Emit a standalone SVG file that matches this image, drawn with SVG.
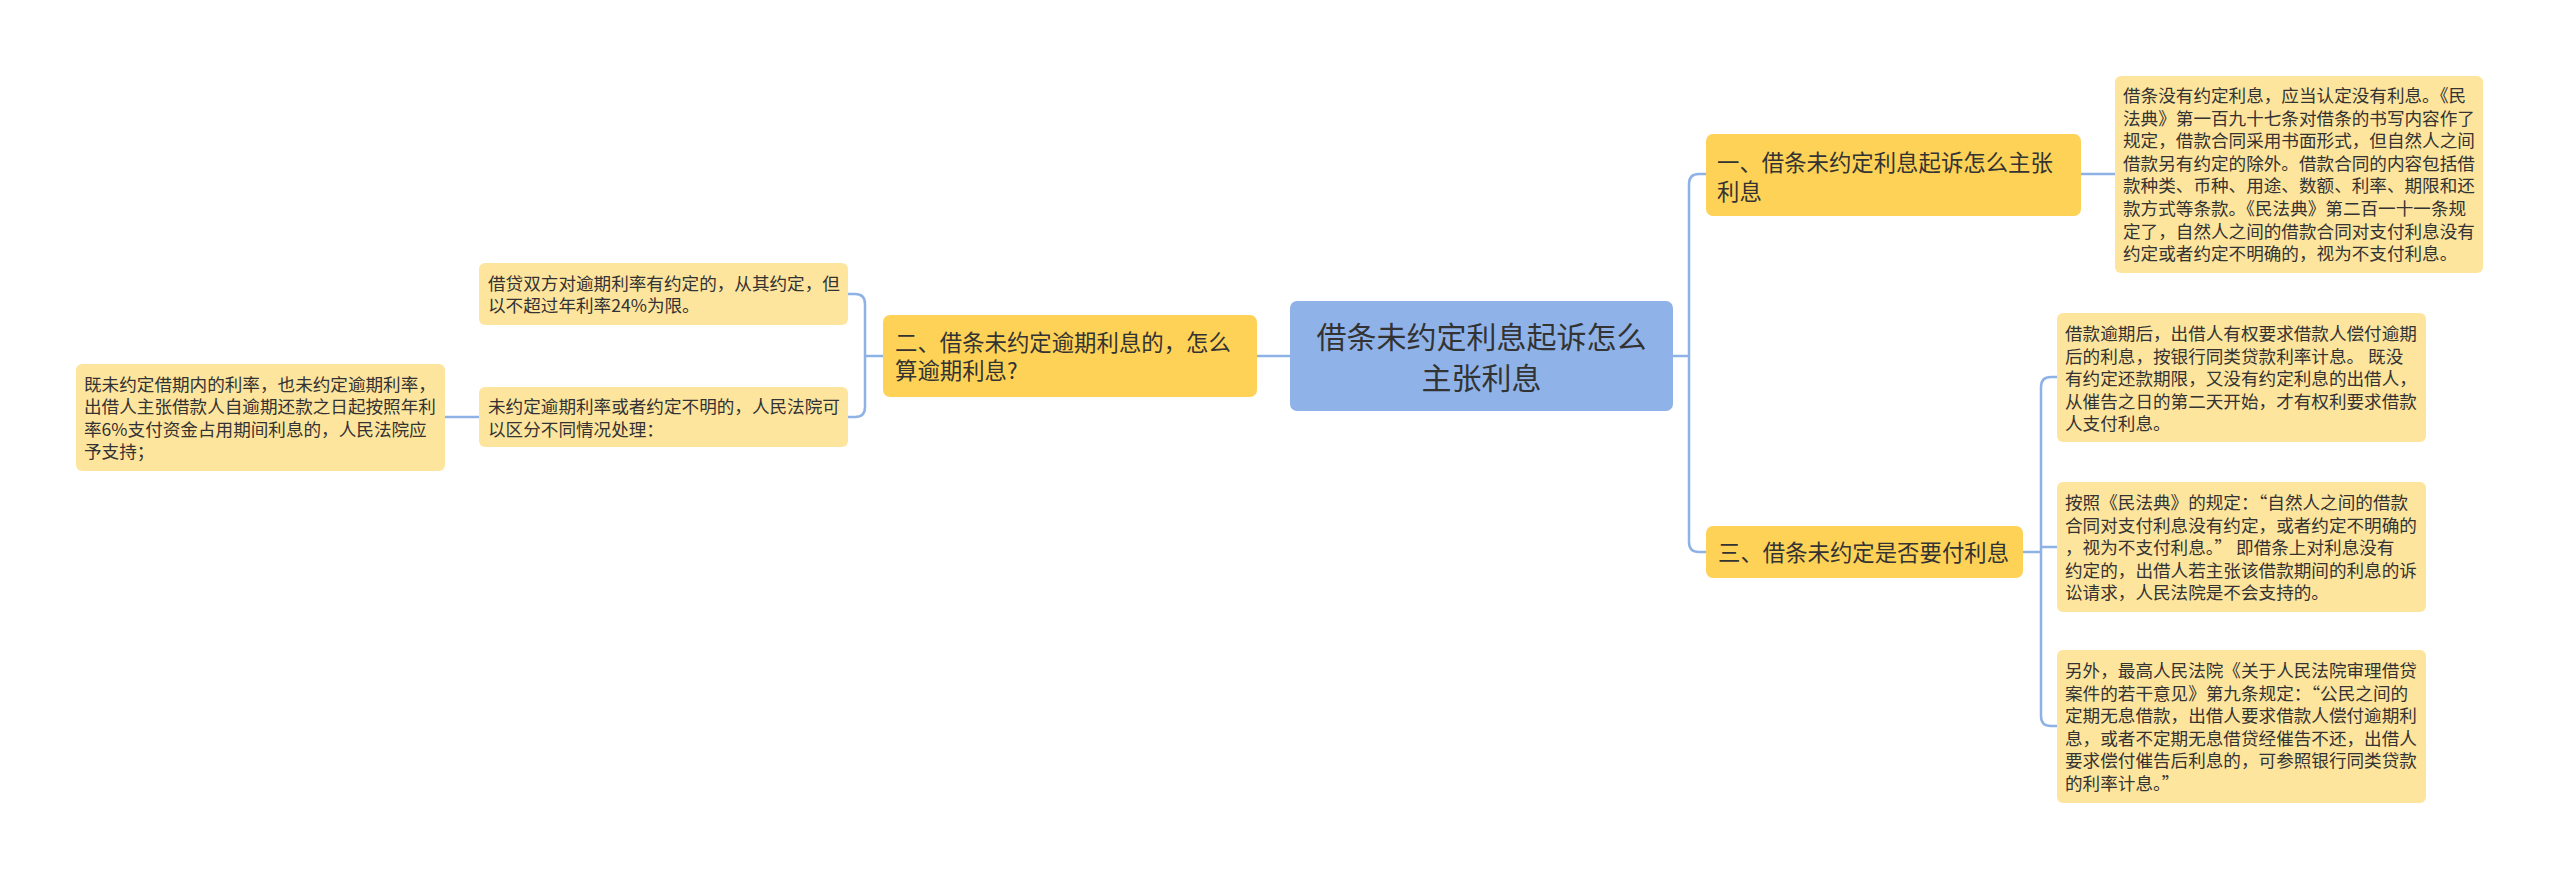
<svg xmlns="http://www.w3.org/2000/svg" width="2560" height="879" viewBox="0 0 2560 879">
<style>
text{font-family:"Noto Sans CJK SC","Noto Sans",sans-serif;fill:#333}
.root rect{fill:#8fb3e9}
.root text{font-size:30px;text-anchor:middle}
.l1 rect{fill:#fdd256}
.l1 text{font-size:22.4px}
.leaf rect{fill:#fee59e}
.leaf text{font-size:17.6px}
.conn path{fill:none;stroke:#8eb2e6;stroke-width:2.5}
</style>
<rect width="2560" height="879" fill="#ffffff"/>
<g class="conn">
<path d="M1673,356 H1689"/>
<path d="M1706,174 H1699 Q1689,174 1689,184 V542 Q1689,552 1699,552 H1706"/>
<path d="M1290,356 H1257"/>
<path d="M2081,174 H2115"/>
<path d="M2023,552 H2041"/>
<path d="M2057,377 H2051 Q2041,377 2041,387 V716 Q2041,726 2051,726 H2057"/>
<path d="M2041,547 H2057"/>
<path d="M883,356 H865"/>
<path d="M848,294 H855 Q865,294 865,304 V407 Q865,417 855,417 H848"/>
<path d="M479,417 H445"/>
</g>
<g id="root" class="root">
<rect x="1290" y="301" width="383" height="110" rx="7"/>
<text x="1481.5" y="348">借条未约定利息起诉怎么</text>
<text x="1481.5" y="389">主张利息</text>
</g>
<g id="n1" class="l1">
<rect x="1706" y="134" width="375" height="82" rx="7"/>
<text x="1717" y="171">一、借条未约定利息起诉怎么主张</text>
<text x="1717" y="200">利息</text>
</g>
<g id="n2" class="l1">
<rect x="883" y="315" width="374" height="82" rx="7"/>
<text x="895" y="351">二、借条未约定逾期利息的，怎么</text>
<text x="895" y="379">算逾期利息?</text>
</g>
<g id="n3" class="l1">
<rect x="1706" y="526" width="317" height="52" rx="7"/>
<text x="1718" y="560.5">三、借条未约定是否要付利息</text>
</g>
<g id="leaf1" class="leaf">
<rect x="2115" y="76" width="368" height="197" rx="6"/>
<text x="2123" y="102">借条没有约定利息，应当认定没有利息。《民</text>
<text x="2123" y="124.6">法典》第一百九十七条对借条的书写内容作了</text>
<text x="2123" y="147.2">规定，借款合同采用书面形式，但自然人之间</text>
<text x="2123" y="169.8">借款另有约定的除外。借款合同的内容包括借</text>
<text x="2123" y="192.4">款种类、币种、用途、数额、利率、期限和还</text>
<text x="2123" y="215">款方式等条款。《民法典》第二百一十一条规</text>
<text x="2123" y="237.6">定了，自然人之间的借款合同对支付利息没有</text>
<text x="2123" y="260.2">约定或者约定不明确的，视为不支付利息。</text>
</g>
<g id="leaf2" class="leaf">
<rect x="2057" y="313" width="369" height="129" rx="6"/>
<text x="2065" y="340">借款逾期后，出借人有权要求借款人偿付逾期</text>
<text x="2065" y="362.6">后的利息，按银行同类贷款利率计息。 既没</text>
<text x="2065" y="385.2">有约定还款期限，又没有约定利息的出借人，</text>
<text x="2065" y="407.8">从催告之日的第二天开始，才有权利要求借款</text>
<text x="2065" y="430.4">人支付利息。</text>
</g>
<g id="leaf3" class="leaf">
<rect x="2057" y="482" width="369" height="130" rx="6"/>
<text x="2065" y="509">按照《民法典》的规定：“自然人之间的借款</text>
<text x="2065" y="531.6">合同对支付利息没有约定，或者约定不明确的</text>
<text x="2065" y="554.2">，视为不支付利息。” 即借条上对利息没有</text>
<text x="2065" y="576.8">约定的，出借人若主张该借款期间的利息的诉</text>
<text x="2065" y="599.4">讼请求，人民法院是不会支持的。</text>
</g>
<g id="leaf4" class="leaf">
<rect x="2057" y="650" width="369" height="153" rx="6"/>
<text x="2065" y="677">另外，最高人民法院《关于人民法院审理借贷</text>
<text x="2065" y="699.6">案件的若干意见》第九条规定：“公民之间的</text>
<text x="2065" y="722.2">定期无息借款，出借人要求借款人偿付逾期利</text>
<text x="2065" y="744.8">息，或者不定期无息借贷经催告不还，出借人</text>
<text x="2065" y="767.4">要求偿付催告后利息的，可参照银行同类贷款</text>
<text x="2065" y="790">的利率计息。”</text>
</g>
<g id="leaf2a" class="leaf">
<rect x="479" y="263" width="369" height="62" rx="6"/>
<text x="488" y="289.5">借贷双方对逾期利率有约定的，从其约定，但</text>
<text x="488" y="312.1">以不超过年利率24%为限。</text>
</g>
<g id="leaf2b" class="leaf">
<rect x="479" y="387" width="369" height="60" rx="6"/>
<text x="488" y="413">未约定逾期利率或者约定不明的，人民法院可</text>
<text x="488" y="435.6">以区分不同情况处理：</text>
</g>
<g id="leaf2b1" class="leaf">
<rect x="76" y="364" width="369" height="107" rx="6"/>
<text x="84" y="390.5">既未约定借期内的利率，也未约定逾期利率，</text>
<text x="84" y="413.1">出借人主张借款人自逾期还款之日起按照年利</text>
<text x="84" y="435.7">率6%支付资金占用期间利息的，人民法院应</text>
<text x="84" y="458.3">予支持；</text>
</g>
</svg>
